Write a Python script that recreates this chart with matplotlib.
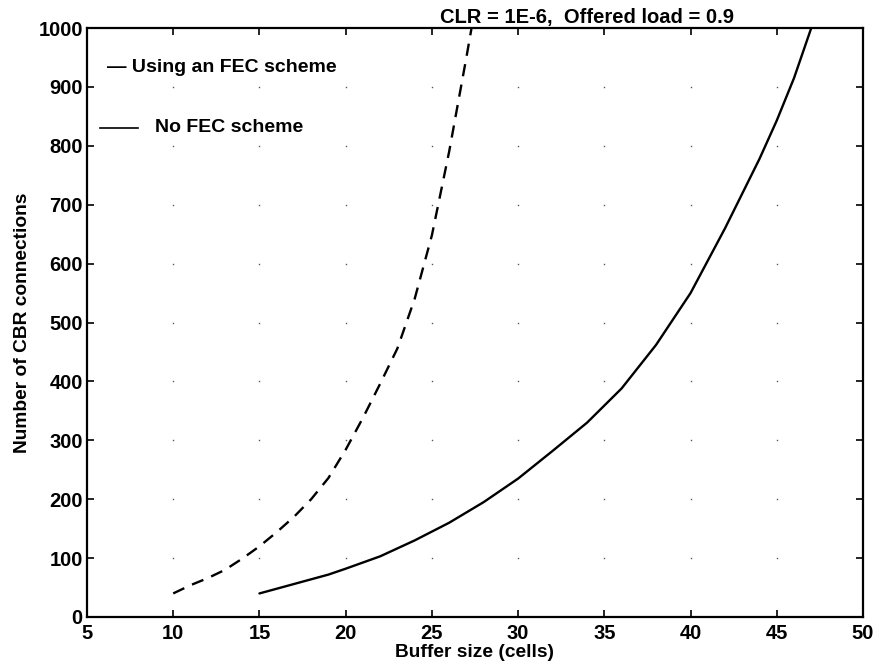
import numpy as np
import matplotlib
matplotlib.use("Agg")
import matplotlib.pyplot as plt
from matplotlib.lines import Line2D

# ---- data ----
fec_x = [10, 11, 12, 13, 14, 15, 16, 17, 18, 19, 20, 21, 22, 23, 24, 25, 26, 27, 27.3]
fec_y = [40, 54, 66, 80, 99, 120, 144, 170, 200, 236, 284, 338, 396, 456, 540, 648, 790, 950, 1000]

nofec_x = [15, 16, 17, 18, 19, 20, 22, 24, 25, 26, 28, 30, 32, 34, 36, 38, 40, 42, 44, 45, 46, 47]
nofec_y = [40, 48, 56, 64, 72, 82, 103, 130, 145, 160, 195, 235, 282, 330, 388, 462, 550, 660, 778, 843, 915, 1000]

x_ticks = [5, 10, 15, 20, 25, 30, 35, 40, 45, 50]
y_ticks = [0, 100, 200, 300, 400, 500, 600, 700, 800, 900, 1000]

title_text = "CLR = 1E-6,  Offered load = 0.9"
x_label = "Buffer size (cells)"
y_label = "Number of CBR connections"
fec_label = "Using an FEC scheme"
nofec_label = "No FEC scheme"

plt.rcParams['font.family'] = ['Liberation Sans', 'DejaVu Sans']
plt.rcParams['font.weight'] = 'bold'

fig = plt.figure(figsize=(8.78, 6.69), dpi=100)
ax = fig.add_axes([87/878, 1 - 617/669, 776/878, 589/669])

# grid dots at tick intersections (MATLAB-style dotted grid)
gx, gy = np.meshgrid(x_ticks[1:-1], y_ticks[1:-1])
ax.plot(gx.ravel(), gy.ravel(), ls='none', marker='s', ms=1.0, color='0.35', mew=0)

ax.plot(fec_x, fec_y, color='black', lw=1.7, dashes=(5.2, 3.6), solid_capstyle='butt')
ax.plot(nofec_x, nofec_y, color='black', lw=1.7, solid_capstyle='round')

ax.set_xlim(5, 50)
ax.set_ylim(0, 1000)
ax.set_xticks(x_ticks)
ax.set_yticks(y_ticks)
ax.tick_params(direction='in', length=5, width=1.2, top=True, right=True,
               labelsize=14.5)
ax.tick_params(axis='x', pad=5)
ax.tick_params(axis='y', pad=3)
for lab in ax.get_xticklabels() + ax.get_yticklabels():
    lab.set_fontweight('bold')
for sp in ax.spines.values():
    sp.set_linewidth(1.6)

ax.set_xlabel(x_label, fontsize=13.8, fontweight='bold', labelpad=1)
ax.set_ylabel(y_label, fontsize=13.8, fontweight='bold', labelpad=5)

fig.text(440/878, 1 - 23/669, title_text, fontsize=14.5, fontweight='bold',
         ha='left', va='baseline')

# hand-placed legend, as in the reference
ax.text((107 - 87)/776, (617 - 67)/589, "\u2014 " + fec_label, transform=ax.transAxes,
        fontsize=14, fontweight='bold', ha='left', va='center')
ax.add_line(Line2D([(100 - 87)/776, (138 - 87)/776], [(617 - 128)/589]*2,
                   transform=ax.transAxes, color='black', lw=1.2))
ax.text((155 - 87)/776, (617 - 128)/589, nofec_label, transform=ax.transAxes,
        fontsize=14, fontweight='bold', ha='left', va='center')

fig.savefig("out.png", dpi=100)
